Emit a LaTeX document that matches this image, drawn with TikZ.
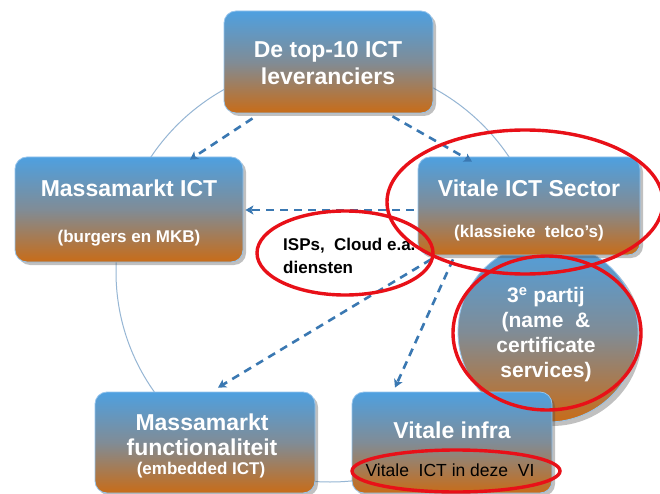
\documentclass[tikz,border=0pt]{standalone}
\usepackage{fontspec}
\setmainfont{Liberation Sans}
\usetikzlibrary{shadows,calc,arrows.meta}

\definecolor{boxtop}{RGB}{78,160,224}
\definecolor{boxmid}{RGB}{128,140,150}
\definecolor{boxbot}{RGB}{200,108,24}
\definecolor{boxrim}{RGB}{150,196,236}
\definecolor{flow}{RGB}{58,120,178}
\definecolor{guide}{RGB}{150,182,212}
\definecolor{marker}{RGB}{232,16,24}

\tikzset{
  panel/.style={rounded corners=12pt, top color=boxtop, bottom color=boxbot,
    middle color=boxmid, draw=boxrim, line width=0.8pt, inner sep=0pt,
    drop shadow={shadow xshift=3pt, shadow yshift=-3pt, opacity=0.35, fill=black!70}},
  title/.style={text=white, font=\bfseries\fontsize{23}{27}\selectfont, align=center, inner sep=0pt},
  subtitle/.style={text=white, font=\bfseries\fontsize{17}{20}\selectfont, align=center, inner sep=0pt},
  flow/.style={draw=flow, line width=2.6pt, dash pattern=on 8pt off 6pt,
    -{Stealth[length=8pt,width=9pt,inset=2pt]}},
  ring/.style={draw=marker, line width=3.4pt},
}

\begin{document}
\begin{tikzpicture}[x=1pt,y=-1pt]
  \path[use as bounding box, clip] (0,0) rectangle (660,494);
  \fill[white] (0,0) rectangle (660,494);

  % cycle guide line behind the panels
  \draw[guide, line width=1pt] (330,272) ellipse [x radius=214pt, y radius=210pt];

  % third-party disc
  \node[circle, minimum size=180pt, inner sep=0pt, top color=boxtop, bottom color=boxbot,
        middle color=boxmid, draw=boxrim, line width=0.8pt,
        drop shadow={shadow xshift=4pt, shadow yshift=-4pt, opacity=0.35, fill=black!70}]
        (party) at (548,332) {};

  % panels
  \node[panel, minimum width=209pt, minimum height=102pt] (top)  at (328.5,62) {};
  \node[panel, minimum width=228pt, minimum height=105pt] (mict) at (129,209.5) {};
  \node[panel, minimum width=222pt, minimum height=98pt]  (vict) at (529,206) {};
  \node[panel, minimum width=220pt, minimum height=101pt] (mfun) at (205,442.5) {};
  \node[panel, minimum width=200pt, minimum height=101pt] (vinf) at (452,442.5) {};

  % panel texts
  \node[title] (toptext) at (328,63.5) {De top-10 ICT\\leveranciers};
  \node[title] (micttitle) at (129,188) {Massamarkt ICT};
  \node[subtitle] (mictsub) at (129,238) {(burgers en MKB)};
  \node[title] (victtitle) at (529,188) {Vitale ICT Sector};
  \node[subtitle] (victsub) at (529,233) {(klassieke\ \ telco’s)};
  \node[title, font=\bfseries\fontsize{23}{25}\selectfont] (mfuntitle) at (202,434.5) {Massamarkt\\functionaliteit};
  \node[subtitle] (mfunsub) at (201,470) {(embedded ICT)};
  \node[title] (vinftitle) at (452,430) {Vitale infra};
  \node[inner sep=0pt, font=\fontsize{17.5}{20}\selectfont] (vinfsub) at (450,470) {Vitale\ \ ICT in deze\ \ VI};

  \node[title, font=\bfseries\fontsize{21}{25}\selectfont] (partytext) at (546,334.5)
       {3\textsuperscript{e} partij\\(name\ \ \&\\certificate\\services)};

  \node[anchor=west, align=left, inner sep=0pt, font=\bfseries\fontsize{17}{23}\selectfont] (isp)
       at (283,256) {ISPs,\ \ Cloud e.a.\\diensten};

  % flows between the parties
  \draw[flow] ($(top.south)+(-76,5)$) -- ($(mict.north)+(61,3)$);
  \draw[flow] ($(top.south)+(64,3)$) -- ($(vict.north)+(-57,5)$);
  \draw[flow] ($(vict.west)+(-4,4)$) -- ($(mict.east)+(2,0.5)$);
  \draw[flow] ($(vict.south)+(-98,4)$) -- ($(mfun.north)+(13,-4)$);
  \draw[flow] ($(vict.south)+(-76,4)$) -- ($(vinf.north)+(-57,-4)$);

  % red highlight rings
  \draw[ring] (525,202) ellipse [x radius=138pt, y radius=72pt];
  \draw[ring] (345,253) ellipse [x radius=88pt, y radius=42pt];
  \draw[ring] (547,333) ellipse [x radius=94pt, y radius=77pt];
  \draw[ring] (456,471) ellipse [x radius=104pt, y radius=21pt];
\end{tikzpicture}
\end{document}
